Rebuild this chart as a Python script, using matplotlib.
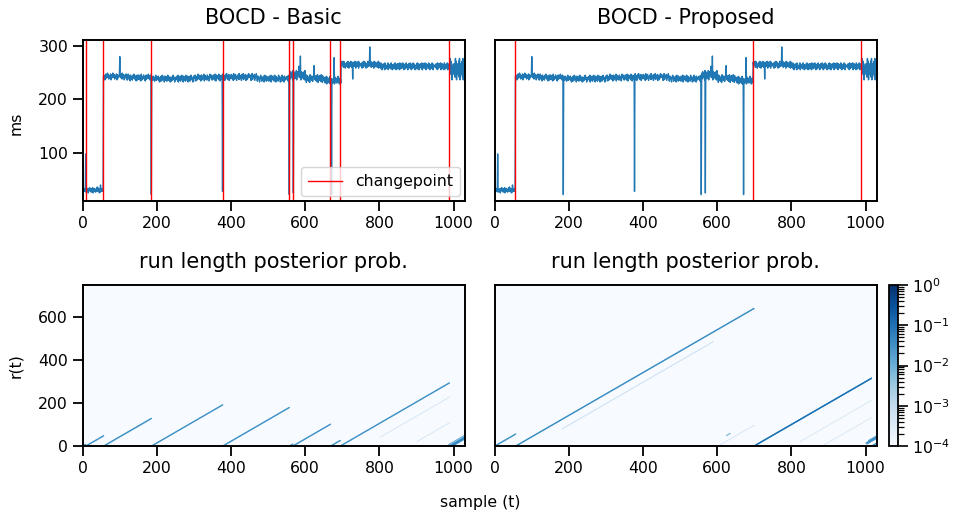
import numpy as np
import matplotlib
matplotlib.use("Agg")
import matplotlib.pyplot as plt
from matplotlib.colors import LogNorm

# ---------------- data ----------------
N = 1030
R_MAX = 750

# piecewise levels of the latency series (ms)
seg_start = [0, 56, 120, 185, 300, 377, 470, 557, 600, 650, 697, 800, 900, 989]
seg_level = [30, 242, 240, 238, 240, 241, 238, 244, 238, 235, 264, 261, 261, 254]
seg_amp   = [1.4, 1.6, 1.6, 1.6, 1.6, 1.6, 1.6, 2.2, 1.8, 1.8, 1.6, 1.6, 1.6, 5.0]

# hand-typed jitter digits (one per sample)
jitter_digits = (
    "56457364825463715648536247581564735264859364715264"
    "65374856241758364957263548173659485726354815736458"
    "47563829564715364857263947561836452785946375164827"
    "58364715926354876241583756495736284517638456274953"
    "64758361547286395746158364725948375614726358947516"
    "35746829154738265947518364729546381574628395746152"
    "76485136274958364715827364591847365287456139578462"
    "45863729516847563928417563845927615384956274816537"
    "68374519627485316457829364751846392576481537264958"
    "57461839275648135796428576314895726473815964728536"
    "46285739164857362945817463529874615382947561835647"
    "75836194572846351978462573916485723649158374625819"
    "64917583624719586347258916473852694175836429571846"
    "57382649158736425917486352749168537246985317462859"
    "46829375164738295617483956271846359712846539178465"
    "63518472965837146259738415962847365192748356274918"
    "74659281736485197246358917463582947163528497615382"
    "58371946285739461572839465172846395817264938571642"
    "46927581634875291648375926184735692814756392817465"
    "65384719263857491628374519862734591847263958471635"
    "57462938157364829175463829157364829517364829157364"
    "64829175364829157346825917364825193746582917364851"
)

# isolated spikes: sample index -> value (ms)
spike_idx = [8, 48, 100, 185, 377, 557, 568, 583, 587, 624, 671, 678, 728, 774]
spike_val = [98, 40, 280, 22, 28, 22, 25, 262, 281, 263, 22, 278, 238, 298]

# detected changepoints (red lines)
cps_basic = [8, 56, 185, 377, 557, 566, 668, 694, 988]
cps_prop = [56, 697, 989]

# run-length resets seen in the posterior maps, and the posterior mass on that run length
resets_basic = [0, 8, 56, 185, 377, 557, 566, 668, 694, 988]
mass_basic   = [0.15, 0.15, 0.15, 0.15, 0.15, 0.15, 0.15, 0.15, 0.15, 0.2]
resets_prop  = [0, 56, 697, 1013]
mass_prop    = [0.15, 0.18, 0.6, 0.15]

# extra (secondary) run-length hypotheses: (origin, t_start, t_end, prob)
extra_basic = [(60, 62, 180, 1.2e-3), (992, 992, 1029, 0.2), (996, 996, 1029, 0.15),
               (760, 800, 988, 1.5e-3), (880, 900, 988, 1.5e-3), (980, 985, 1029, 0.05)]
extra_prop = [(101, 180, 586, 2.5e-3), (600, 605, 697, 1.5e-3), (574, 622, 632, 0.03),
              (800, 820, 1012, 1.3e-3), (880, 885, 1012, 1.3e-3),
              (985, 998, 1029, 0.2), (990, 1000, 1029, 0.15), (980, 1004, 1029, 0.1)]

FLOOR = 1e-4

# ---------------- build series ----------------
t = np.arange(N)
digits = np.array([int(c) for c in jitter_digits[:N]], dtype=float)
level = np.zeros(N)
amp = np.zeros(N)
bounds = seg_start + [N]
for i in range(len(seg_start)):
    level[bounds[i]:bounds[i + 1]] = seg_level[i]
    amp[bounds[i]:bounds[i + 1]] = seg_amp[i]
series = level + (digits - 4.5) * amp
for i, v in zip(spike_idx, spike_val):
    series[i] = v


def run_length_matrix(resets, mass, extras):
    M = np.full((R_MAX, N), FLOOR)
    for tt in range(N):
        k = 0
        for j, c in enumerate(resets):
            if c <= tt:
                k = j
        r = tt - resets[k]
        if r < R_MAX:
            M[r, tt] = mass[k]
    for (o, a, b, p) in extras:
        for tt in range(a, b + 1):
            r = tt - o
            if 0 <= r < R_MAX and tt < N:
                M[r, tt] = max(M[r, tt], p)
    return M


R_basic = run_length_matrix(resets_basic, mass_basic, extra_basic)
R_prop = run_length_matrix(resets_prop, mass_prop, extra_prop)

# ---------------- figure ----------------
plt.rcParams['font.family'] = ['DejaVu Sans']
W, H = 956, 516
fig = plt.figure(figsize=(W / 100, H / 100), dpi=100)


def fx(px):
    return px / W


def fy(py_top, py_bot):
    return 1 - py_bot / H, (py_bot - py_top) / H


ax_w = fx(382)
b_top, h_top = fy(40, 201)
b_bot, h_bot = fy(285, 446)
ax_tl = fig.add_axes([fx(82.7), b_top, ax_w, h_top])
ax_tr = fig.add_axes([fx(494.7), b_top, ax_w, h_top])
ax_bl = fig.add_axes([fx(82.7), b_bot, ax_w, h_bot])
ax_br = fig.add_axes([fx(494.7), b_bot, ax_w, h_bot])
cax = fig.add_axes([fx(889), b_bot, fx(8.5), h_bot])

TICK_FS = 11.3
TITLE_FS = 15

for ax, cps, title in [(ax_tl, cps_basic, "BOCD - Basic"), (ax_tr, cps_prop, "BOCD - Proposed")]:
    ax.plot(t, series, color='#1f77b4', lw=1.0)
    for k, c in enumerate(cps):
        ax.axvline(c, color='red', lw=1.0, label='changepoint' if k == 0 else None)
    ax.set_xlim(0, N)
    ax.set_ylim(10, 311)
    ax.set_title(title, fontsize=TITLE_FS, pad=11.5)
    ax.set_xticks([0, 200, 400, 600, 800, 1000])

ax_tl.set_yticks([100, 200, 300])
leg = ax_tl.legend(loc='lower right', fontsize=TICK_FS, frameon=True, fancybox=True,
                   borderpad=0.45, handlelength=2.2, borderaxespad=0.3)
ax_tr.set_yticks([])

norm = LogNorm(vmin=1e-4, vmax=1)
for ax, M in [(ax_bl, R_basic), (ax_br, R_prop)]:
    im = ax.imshow(M, origin='lower', aspect='auto', cmap='Blues', norm=norm,
                   extent=[0, N, 0, R_MAX], interpolation='antialiased',
                   interpolation_stage='data')
    ax.set_xlim(0, N)
    ax.set_ylim(0, R_MAX)
    ax.set_title("run length posterior prob.", fontsize=TITLE_FS, pad=12)
    ax.set_xticks([0, 200, 400, 600, 800, 1000])
ax_bl.set_yticks([0, 200, 400, 600])
ax_br.set_yticks([])

cb = fig.colorbar(im, cax=cax)
cb.ax.tick_params(labelsize=TICK_FS, width=1.2, length=7)
cb.ax.tick_params(which='minor', width=0.9, length=4)
cb.outline.set_linewidth(1.3)

for ax in [ax_tl, ax_tr, ax_bl, ax_br]:
    ax.tick_params(labelsize=TICK_FS, width=1.3, length=7)
    for s in ax.spines.values():
        s.set_linewidth(1.4)

fig.text(fx(16), 1 - 123 / H, "ms", rotation=90, ha='center', va='center', fontsize=TICK_FS)
fig.text(fx(16), 1 - 366 / H, "r(t)", rotation=90, ha='center', va='center', fontsize=TICK_FS)
fig.text(fx(480), 1 - 502 / H, "sample (t)", ha='center', va='center', fontsize=TICK_FS)

fig.savefig("out.png", dpi=100)
